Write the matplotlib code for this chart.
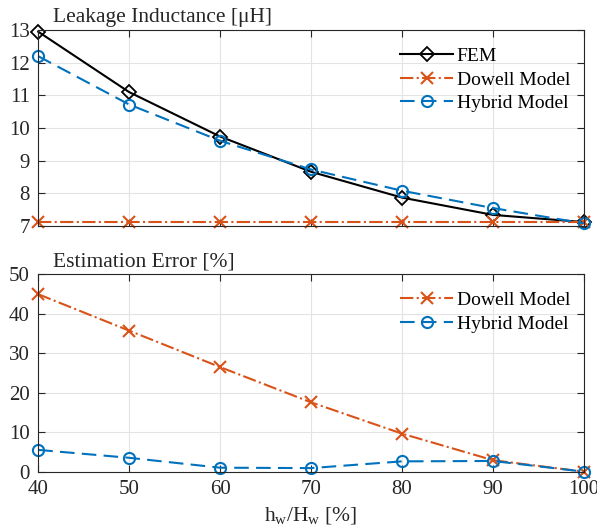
import numpy as np
import matplotlib
matplotlib.use("Agg")
import matplotlib.pyplot as plt

plt.rcParams['font.family'] = ['Liberation Serif', 'DejaVu Serif']
plt.rcParams['mathtext.fontset'] = 'custom'
plt.rcParams['mathtext.rm'] = 'Liberation Serif'
plt.rcParams['mathtext.it'] = 'Liberation Serif'

hw = [40, 50, 60, 70, 80, 90, 100]
L_fem = [12.95, 11.1, 9.74, 8.66, 7.87, 7.34, 7.12]
L_dowell = [7.12, 7.12, 7.12, 7.12, 7.12, 7.12, 7.12]
L_hybrid = [12.2, 10.72, 9.61, 8.73, 8.08, 7.55, 7.08]
err_dowell = [44.9, 35.7, 26.5, 17.6, 9.7, 3.0, 0.1]
err_hybrid = [5.6, 3.6, 1.1, 1.0, 2.7, 2.8, 0.1]

blue = '#0072BD'
orange = '#D95319'

fig = plt.figure(figsize=(5.97, 5.31), dpi=100)
ax1 = fig.add_axes([0.064, 0.5744, 0.914, 0.369])
ax2 = fig.add_axes([0.064, 0.111, 0.914, 0.373])

ax1.plot(hw, L_fem, '-', color='black', marker='D', markersize=7, mfc='none', mew=1.3, lw=1.5, label='FEM')
ax1.plot(hw, L_dowell, '-.', color=orange, marker='x', markersize=9, mew=1.5, lw=1.5, label='Dowell Model')
ax1.plot(hw, L_hybrid, '--', color=blue, marker='o', markersize=8, mfc='none', mew=1.5, lw=1.5,
         dashes=(7, 3.5), label='Hybrid Model')
ax1.set_ylim(7, 13)
ax1.set_yticks(range(7, 14))

ax2.plot(hw, err_dowell, '-.', color=orange, marker='x', markersize=9, mew=1.5, lw=1.5, label='Dowell Model')
ax2.plot(hw, err_hybrid, '--', color=blue, marker='o', markersize=8, mfc='none', mew=1.5, lw=1.5,
         dashes=(7, 3.5), label='Hybrid Model')
ax2.set_ylim(0, 50)
ax2.set_yticks(range(0, 51, 10))

for ax in (ax1, ax2):
    ax.set_xlim(40, 100)
    ax.set_xticks(hw)
    ax.grid(True, color='#e3e3e3', lw=0.8)
    ax.set_axisbelow(True)
    ax.tick_params(direction='in', top=True, right=True, labelsize=15, length=5, width=0.8,
                   colors='#262626', pad=6)
    for s in ax.spines.values():
        s.set_color('#262626')
        s.set_linewidth(0.8)
    for m in ax.lines:
        m.set_clip_on(False)
    ax.legend(loc='upper right', bbox_to_anchor=(1.0, 0.98), frameon=False, fontsize=14,
              handlelength=2.7, handletextpad=0.2, labelspacing=0.3, borderaxespad=0.3)

ax1.set_xticklabels([])
ax1.text(0.027, 1.015, 'Leakage Inductance [\u03bcH]', transform=ax1.transAxes,
         fontsize=15.5, color='#262626', va='bottom', ha='left')
ax2.text(0.027, 1.015, 'Estimation Error [%]', transform=ax2.transAxes,
         fontsize=15.5, color='#262626', va='bottom', ha='left')
ax2.set_xlabel(r'h$_\mathrm{w}$/H$_\mathrm{w}$ [%]', fontsize=15.5, color='#262626', labelpad=4)

fig.savefig('out.png', dpi=100)
